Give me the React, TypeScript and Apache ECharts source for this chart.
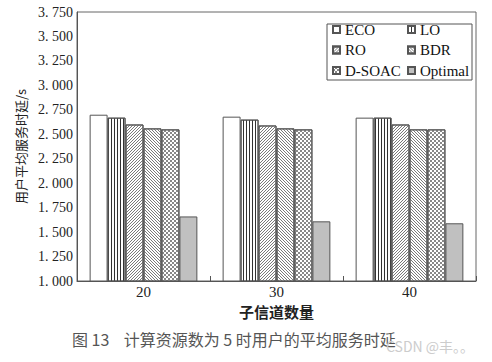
import React, { useEffect, useRef } from "react";
import * as echarts from "echarts";

const categories = ["20", "30", "40"];
const seriesNames = ["ECO", "LO", "RO", "BDR", "D-SOAC", "Optimal"];
const ecoValues = [2.7, 2.68, 2.67];
const loValues = [2.67, 2.65, 2.67];
const roValues = [2.6, 2.59, 2.6];
const bdrValues = [2.56, 2.56, 2.55];
const dsoacValues = [2.55, 2.55, 2.55];
const optimalValues = [1.66, 1.61, 1.59];
const yMin = 1;
const yMax = 3.75;
const yInterval = 0.25;
const xName = "子信道数量";
const yName = "用户平均服务时延/s";
const caption = "图 13    计算资源数为 5 时用户的平均服务时延";
const watermark = "CSDN @丰。。";

const serif = "'Liberation Serif', 'DejaVu Serif', serif";
const cjk = "'Noto Sans CJK SC', sans-serif";

export default function App() {
  const ref = useRef<HTMLDivElement>(null);
  useEffect(() => {
    if (!ref.current) return;
    const chart = echarts.init(ref.current, undefined, { renderer: "svg" });
    const values = [ecoValues, loValues, roValues, bdrValues, dsoacValues, optimalValues];
    const decals: any[] = [
      null,
      { symbol: "rect", symbolSize: 1, dashArrayX: [1, 1.8], dashArrayY: [1, 0], rotation: 0, color: "#333" },
      {
        symbol: "rect", symbolSize: 1, rotation: 0, color: "#7a7a7a",
        dashArrayX: [[1, 2], [0, 2, 1, 0], [0, 1, 1, 1]], dashArrayY: [1, 0],
      },
      {
        symbol: "rect", symbolSize: 1, rotation: 0, color: "#7a7a7a",
        dashArrayX: [[1, 2], [0, 1, 1, 1], [0, 2, 1, 0]], dashArrayY: [1, 0],
      },
      { symbol: "rect", symbolSize: 1, dashArrayX: [[1.5, 1.5], [0, 1.5, 1.5, 0]], dashArrayY: [1.5, 0], rotation: 0, color: "#888" },
      null,
    ];
    const colors = ["#ffffff", "#ffffff", "#ffffff", "#ffffff", "#ffffff", "#c0c0c0"];
    const series = seriesNames.map((name, i) => ({
      name,
      type: "bar",
      data: values[i],
      barGap: "0%",
      barCategoryGap: "19%",
      itemStyle: {
        color: colors[i],
        borderColor: "#555",
        borderWidth: 1,
        decal: decals[i] || undefined,
      },
    }));
    const legendCommon = {
      orient: "vertical",
      top: 22,
      padding: 0,
      itemWidth: 7,
      itemHeight: 7,
      itemGap: 5.5,
      icon: "rect",
      textStyle: { fontFamily: serif, fontSize: 15, color: "#111", lineHeight: 15 },
    };
    chart.setOption({
      animation: false,
      backgroundColor: "#fff",
      grid: {
        left: 77,
        right: 16,
        top: 12,
        bottom: 81,
        show: true,
        borderColor: "#666",
        borderWidth: 1,
      },
      legend: [
        { ...legendCommon, left: 332, data: ["ECO", "RO", "D-SOAC"] },
        { ...legendCommon, left: 407, data: ["LO", "BDR", "Optimal"] },
      ],
      xAxis: {
        type: "category",
        data: categories,
        name: xName,
        nameLocation: "middle",
        nameGap: 23,
        nameTextStyle: { fontFamily: cjk, fontSize: 15, fontWeight: "bold", color: "#222" },
        axisLine: { lineStyle: { color: "#555" } },
        axisTick: { show: true, inside: true, length: 5, lineStyle: { color: "#555" } },
        axisLabel: { fontFamily: serif, fontSize: 15, color: "#222", margin: 3 },
      },
      yAxis: {
        type: "value",
        min: yMin,
        max: yMax,
        interval: yInterval,
        name: yName,
        nameLocation: "middle",
        nameGap: 44,
        nameTextStyle: { fontFamily: cjk, fontSize: 13, color: "#222" },
        axisLine: { show: true, lineStyle: { color: "#555" } },
        axisTick: { show: false },
        splitLine: { show: false },
        axisLabel: {
          fontFamily: serif,
          fontSize: 14,
          color: "#222",
          margin: 4,
          formatter: (v: number) => v.toFixed(3).replace(".", ". "),
        },
      },
      graphic: [
        {
          type: "rect",
          shape: { x: 327, y: 24, width: 145, height: 56 },
          style: { fill: "none", stroke: "#555", lineWidth: 1 },
          z: 10,
        },
        {
          type: "text",
          left: 72,
          top: 331,
          style: { text: caption, font: `16px ${cjk}`, fill: "#555" },
        },
        {
          type: "text",
          left: 386,
          top: 339,
          style: { text: watermark, font: `14px ${cjk}`, fill: "#cccccc" },
        },
      ],
      series,
    });
    return () => chart.dispose();
  }, []);
  return (
    <div
      ref={ref}
      style={{ position: "fixed", left: 0, top: 0, width: 492, height: 362, background: "#fff" }}
    />
  );
}
